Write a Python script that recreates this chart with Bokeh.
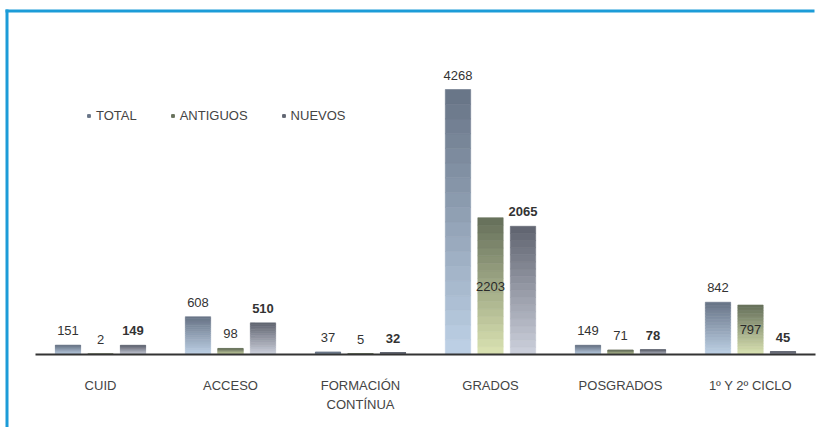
from bokeh.plotting import figure
from bokeh.models import ColumnDataSource, Legend, LegendItem, LabelSet, Range1d, BoxAnnotation
from bokeh.core.properties import value
from bokeh.embed import file_html
from bokeh.resources import INLINE

categories = ["CUID", "ACCESO", "FORMACIÓN\nCONTÍNUA", "GRADOS", "POSGRADOS", "1º Y 2º CICLO"]
series_names = ["TOTAL", "ANTIGUOS", "NUEVOS"]
total = [151, 608, 37, 4268, 149, 842]
antiguos = [2, 98, 5, 2203, 71, 797]
nuevos = [149, 510, 32, 2065, 78, 45]

series_values = [total, antiguos, nuevos]
# gradient colours (top, bottom) per series
grad = [((105, 118, 136), (188, 207, 228)),
        ((104, 114, 92), (216, 224, 176)),
        ((98, 102, 114), (202, 206, 218))]
offsets = [-0.25, 0.0, 0.25]
bar_w = 0.195
N = 18

FONT = "Liberation Sans"
BLUE = "#1c9cd8"

W, H = 817, 427
PLOT_L, PLOT_R, BASE_Y = 35, 815, 354      # pixel layout of the axis
PX_PER_CAT = (PLOT_R - PLOT_L) / len(categories)
PX_PER_UNIT = 265 / 4268

x_range = Range1d(-PLOT_L / PX_PER_CAT, (W - PLOT_L) / PX_PER_CAT)
y_range = Range1d(-(H - BASE_Y) / PX_PER_UNIT, BASE_Y / PX_PER_UNIT)

p = figure(width=W, height=H, output_backend="svg", toolbar_location=None,
           x_range=x_range, y_range=y_range,
           min_border_left=0, min_border_right=0, min_border_top=0, min_border_bottom=0)
p.outline_line_color = None
p.xgrid.visible = False
p.ygrid.visible = False
p.xaxis.visible = False
p.yaxis.visible = False
p.background_fill_color = "white"
p.border_fill_color = "white"

# blue frame (top and left edges)
p.add_layout(BoxAnnotation(left=5, right=8, top=9, bottom=H,
                           left_units="canvas", right_units="canvas",
                           top_units="canvas", bottom_units="canvas",
                           fill_color=BLUE, fill_alpha=1, line_color=None))
p.add_layout(BoxAnnotation(left=5, right=W - 3, top=9, bottom=12,
                           left_units="canvas", right_units="canvas",
                           top_units="canvas", bottom_units="canvas",
                           fill_color=BLUE, fill_alpha=1, line_color=None))

def hexc(c):
    return "#%02x%02x%02x" % tuple(int(round(v)) for v in c)

legend_items = []
for si, (name, vals) in enumerate(zip(series_names, series_values)):
    xs, bots, tops, cols = [], [], [], []
    top_c, bot_c = grad[si]
    for ci, v in enumerate(vals):
        for k in range(N):
            t = k / (N - 1)
            c = [bot_c[j] + (top_c[j] - bot_c[j]) * t for j in range(3)]
            xs.append(ci + 0.5 + offsets[si])
            bots.append(v * k / N)
            tops.append(v * (k + 1) / N)
            cols.append(hexc(c))
    src = ColumnDataSource(dict(x=xs, bottom=bots, top=tops, color=cols))
    p.vbar(x="x", bottom="bottom", top="top", width=bar_w, source=src,
           fill_color="color", line_color="color", line_width=0.6)
    proxy = p.scatter(x=[-10], y=[-10], marker="square", size=6, color=hexc(top_c))
    legend_items.append(LegendItem(label=name, renderers=[proxy]))

    # value labels
    lx, ly, lt, inside = [], [], [], []
    for ci, v in enumerate(vals):
        lx.append(ci + 0.5 + offsets[si])
        if si == 1 and v > 500:
            ly.append(v / 2)
            inside.append(True)
        else:
            ly.append(v)
            inside.append(False)
        lt.append(str(v))
    out_src = ColumnDataSource(dict(x=[a for a, b in zip(lx, inside) if not b],
                                    y=[a for a, b in zip(ly, inside) if not b],
                                    t=[a for a, b in zip(lt, inside) if not b]))
    in_src = ColumnDataSource(dict(x=[a for a, b in zip(lx, inside) if b],
                                   y=[a for a, b in zip(ly, inside) if b],
                                   t=[a for a, b in zip(lt, inside) if b]))
    weight = "bold" if si == 2 else "normal"
    p.add_layout(LabelSet(x="x", y="y", text="t", source=out_src, x_offset=0, y_offset=10,
                          text_align="center", text_baseline="bottom", text_font=value(FONT),
                          text_font_size="13px", text_color="#333333",
                          text_font_style=value(weight)))
    p.add_layout(LabelSet(x="x", y="y", text="t", source=in_src,
                          text_align="center", text_baseline="middle", text_font=value(FONT),
                          text_font_size="13px", text_color="#2a2a2a",
                          text_font_style=value(weight)))

# x axis line and category labels (each line centred)
p.segment(x0=[0], x1=[len(categories)], y0=[0], y1=[0], line_color="#333333", line_width=2)
for line_no, yoff in ((0, -23), (1, -42)):
    xs_l, ts_l = [], []
    for i, c in enumerate(categories):
        parts = c.split("\n")
        if line_no < len(parts):
            xs_l.append(i + 0.5)
            ts_l.append(parts[line_no])
    src_l = ColumnDataSource(dict(x=xs_l, y=[0] * len(xs_l), t=ts_l))
    p.add_layout(LabelSet(x="x", y="y", text="t", source=src_l, y_offset=yoff,
                          text_align="center", text_baseline="top", text_font=value(FONT),
                          text_font_size="13px", text_color="#444444"))

legend = Legend(items=legend_items, orientation="horizontal", location=(85, 304),
                glyph_width=7, glyph_height=7, label_height=14, label_standoff=4,
                spacing=32, padding=0, margin=0, border_line_color=None,
                background_fill_alpha=0, label_text_font=FONT, label_text_font_size="13px",
                label_text_color="#444444")
p.add_layout(legend, "center")

open("out.html", "w").write(file_html(p, INLINE))
